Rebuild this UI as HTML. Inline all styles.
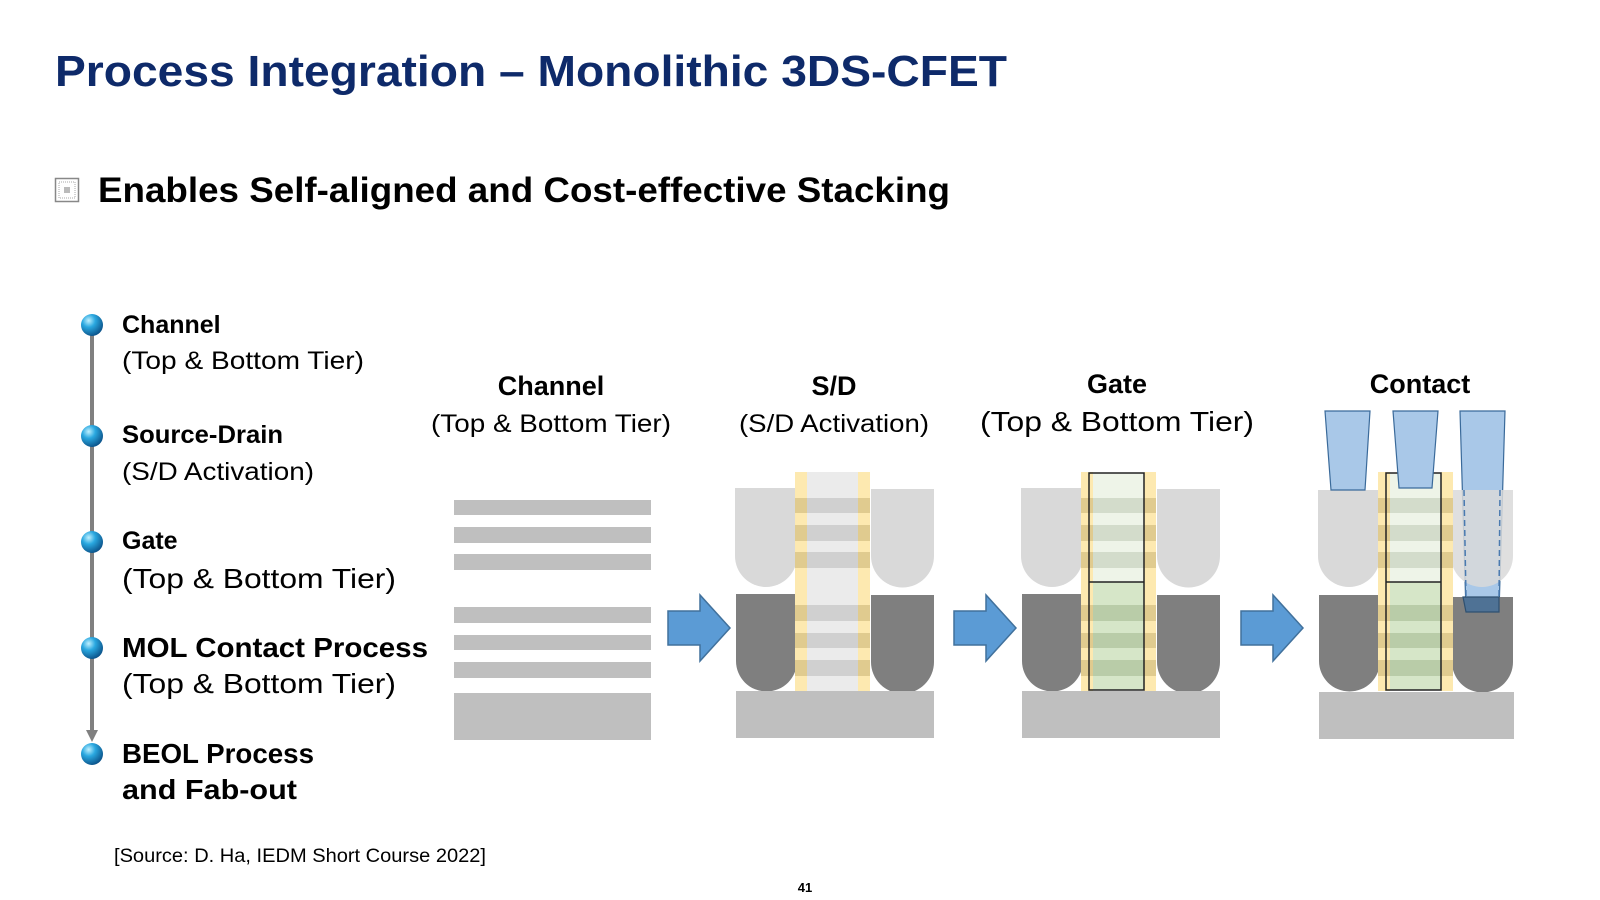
<!DOCTYPE html>
<html><head><meta charset="utf-8"><style>
html,body{margin:0;padding:0;background:#fff;}
svg{display:block;}
text{font-family:"Liberation Sans",sans-serif;}
</style></head><body>
<svg width="1600" height="900" viewBox="0 0 1600 900" xmlns="http://www.w3.org/2000/svg">
<defs>
<radialGradient id="ball" cx="0.35" cy="0.3" r="0.75">
<stop offset="0" stop-color="#bff0ff"/><stop offset="0.4" stop-color="#2aa8e0"/><stop offset="1" stop-color="#0a4f86"/>
</radialGradient>
<g id="sdbase">
<path d="M735 488H797V556A31 31 0 0 1 735 556Z" fill="#d9d9d9"/>
<path d="M871 489H934V556A31.5 31.5 0 0 1 871 556Z" fill="#d9d9d9"/>
<path d="M736 594H797V661A30.5 30.5 0 0 1 736 661Z" fill="#7f7f7f"/>
<path d="M871 595H934V662A31.5 31.5 0 0 1 871 662Z" fill="#7f7f7f"/>
<rect x="736" y="691" width="198" height="47" fill="#bfbfbf"/>
</g>
<g id="liners">
<rect x="795" y="472" width="12" height="219" fill="#fde9b0"/>
<rect x="858" y="472" width="12" height="219" fill="#fde9b0"/>
<g fill="#e0cb8f">
<rect x="795" y="498" width="12" height="15"/><rect x="858" y="498" width="12" height="15"/>
<rect x="795" y="525" width="12" height="16"/><rect x="858" y="525" width="12" height="16"/>
<rect x="795" y="552" width="12" height="16"/><rect x="858" y="552" width="12" height="16"/>
<rect x="795" y="605" width="12" height="16"/><rect x="858" y="605" width="12" height="16"/>
<rect x="795" y="633" width="12" height="15"/><rect x="858" y="633" width="12" height="15"/>
<rect x="795" y="660" width="12" height="16"/><rect x="858" y="660" width="12" height="16"/>
</g>
</g>
<g id="gatecol">
<use href="#liners"/>
<rect x="807" y="473" width="51" height="109" fill="#eef4e8"/>
<rect x="807" y="582" width="51" height="108" fill="#d6e6c8"/>
<g fill="#d3dccb">
<rect x="807" y="498" width="51" height="15"/><rect x="807" y="525" width="51" height="16"/><rect x="807" y="552" width="51" height="16"/>
</g>
<g fill="#b9cca8">
<rect x="807" y="605" width="51" height="16"/><rect x="807" y="633" width="51" height="15"/><rect x="807" y="660" width="51" height="16"/>
</g>
<rect x="803" y="473" width="55" height="217" fill="none" stroke="#222" stroke-width="1.5"/>
<line x1="803" y1="582" x2="858" y2="582" stroke="#222" stroke-width="1.5"/>
</g>
<path id="arrow" d="M0 16H32V0L62 33L32 66V50H0Z" fill="#5b9bd5" stroke="#41719c" stroke-width="1.5"/>
</defs>

<text x="55" y="86" font-size="44" font-weight="bold" fill="#0e2a6a" textLength="952" lengthAdjust="spacingAndGlyphs">Process Integration – Monolithic 3DS-CFET</text>

<rect x="55.5" y="178.5" width="23" height="23" fill="#fff" stroke="#888" stroke-width="1.5"/>
<rect x="59" y="182" width="16" height="16" fill="none" stroke="#aaa" stroke-width="1" stroke-dasharray="1 1"/>
<rect x="64" y="187" width="6" height="6" fill="#bbb"/>
<text x="98" y="202" font-size="35" font-weight="bold" fill="#000" textLength="852" lengthAdjust="spacingAndGlyphs">Enables Self-aligned and Cost-effective Stacking</text>

<line x1="92" y1="325" x2="92" y2="736" stroke="#808080" stroke-width="4"/>
<path d="M86 730L92 742L98 730Z" fill="#808080"/>
<g fill="url(#ball)">
<circle cx="92" cy="325" r="11"/><circle cx="92" cy="436" r="11"/><circle cx="92" cy="542" r="11"/><circle cx="92" cy="648" r="11"/><circle cx="92" cy="754" r="11"/>
</g>
<g fill="#000">
<text x="122" y="333" font-size="25" font-weight="bold">Channel</text>
<text x="122" y="369" font-size="25" textLength="242" lengthAdjust="spacingAndGlyphs">(Top &amp; Bottom Tier)</text>
<text x="122" y="443" font-size="25" font-weight="bold" textLength="161" lengthAdjust="spacingAndGlyphs">Source-Drain</text>
<text x="122" y="480" font-size="25" textLength="192" lengthAdjust="spacingAndGlyphs">(S/D Activation)</text>
<text x="122" y="549" font-size="25" font-weight="bold">Gate</text>
<text x="122" y="588" font-size="28" textLength="274" lengthAdjust="spacingAndGlyphs">(Top &amp; Bottom Tier)</text>
<text x="122" y="657" font-size="28" font-weight="bold" textLength="306" lengthAdjust="spacingAndGlyphs">MOL Contact Process</text>
<text x="122" y="693" font-size="28" textLength="274" lengthAdjust="spacingAndGlyphs">(Top &amp; Bottom Tier)</text>
<text x="122" y="763" font-size="28" font-weight="bold" textLength="192" lengthAdjust="spacingAndGlyphs">BEOL Process</text>
<text x="122" y="799" font-size="28" font-weight="bold" textLength="175" lengthAdjust="spacingAndGlyphs">and Fab-out</text>
</g>

<g fill="#000" text-anchor="middle">
<text x="551" y="395" font-size="27" font-weight="bold">Channel</text>
<text x="551" y="432" font-size="25" textLength="240" lengthAdjust="spacingAndGlyphs">(Top &amp; Bottom Tier)</text>
<text x="834" y="395" font-size="27" font-weight="bold">S/D</text>
<text x="834" y="432" font-size="25" textLength="190" lengthAdjust="spacingAndGlyphs">(S/D Activation)</text>
<text x="1117" y="393" font-size="27" font-weight="bold">Gate</text>
<text x="1117" y="431" font-size="28" textLength="274" lengthAdjust="spacingAndGlyphs">(Top &amp; Bottom Tier)</text>
<text x="1420" y="393" font-size="27" font-weight="bold">Contact</text>
</g>

<g fill="#bfbfbf">
<rect x="454" y="500" width="197" height="15"/><rect x="454" y="527" width="197" height="16"/><rect x="454" y="554" width="197" height="16"/>
<rect x="454" y="607" width="197" height="16"/><rect x="454" y="635" width="197" height="15"/><rect x="454" y="662" width="197" height="16"/>
<rect x="454" y="693" width="197" height="47"/>
</g>

<use href="#sdbase"/>
<rect x="807" y="472" width="51" height="219" fill="#ebebeb"/>
<g fill="#d0d0d0">
<rect x="807" y="498" width="51" height="15"/><rect x="807" y="525" width="51" height="16"/><rect x="807" y="552" width="51" height="16"/>
<rect x="807" y="605" width="51" height="16"/><rect x="807" y="633" width="51" height="15"/><rect x="807" y="660" width="51" height="16"/>
</g>
<use href="#liners"/>

<g transform="translate(286,0)">
<use href="#sdbase"/>
<use href="#gatecol"/>
</g>

<g transform="translate(583,0)">
<path d="M877 411H922L916 612H883Z" fill="#a9c8e8" stroke="#3a6a9a" stroke-width="1.2"/>
<path d="M735 490H797V556A31 31 0 0 1 735 556Z" fill="#d9d9d9"/>
<path d="M868 490H930V556A31 31 0 0 1 868 556Z" fill="#d9d9d9" fill-opacity="0.85"/>
<path d="M736 595H797V661A30.5 30.5 0 0 1 736 661Z" fill="#7f7f7f"/>
<path d="M869 597H930V662A30.5 30.5 0 0 1 869 662Z" fill="#7f7f7f"/>
<rect x="736" y="692" width="195" height="47" fill="#bfbfbf"/>
<path d="M880 597H916L916 612H883Z" fill="#4f7295" stroke="#2f5070" stroke-width="1.2"/>
<path d="M881 490L883 597M917 490L916 597" stroke="#4a7ab0" stroke-width="1.5" stroke-dasharray="6 4"/>
<use href="#gatecol"/>
<path d="M742 411H787L782 490H748Z" fill="#a9c8e8" stroke="#3a6a9a" stroke-width="1.2"/>
<path d="M810 411H855L849 488H816Z" fill="#a9c8e8" stroke="#3a6a9a" stroke-width="1.2"/>
</g>

<use href="#arrow" transform="translate(668,595)"/>
<use href="#arrow" transform="translate(954,595)"/>
<use href="#arrow" transform="translate(1241,595)"/>

<text x="114" y="862" font-size="19" fill="#000" textLength="372" lengthAdjust="spacingAndGlyphs">[Source: D. Ha, IEDM Short Course 2022]</text>
<text x="805" y="892" font-size="13" font-weight="bold" fill="#000" text-anchor="middle">41</text>
</svg>
</body></html>
